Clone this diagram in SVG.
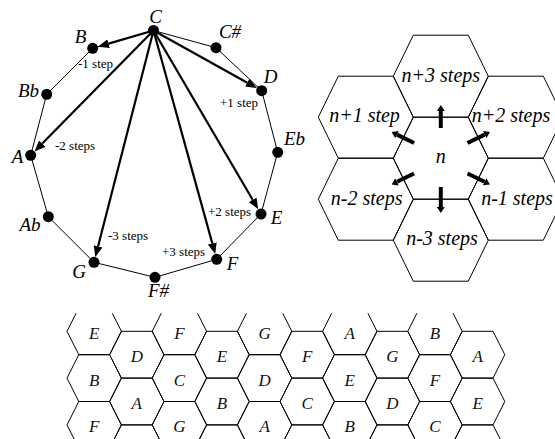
<svg xmlns="http://www.w3.org/2000/svg" xmlns:xlink="http://www.w3.org/1999/xlink" width="555" height="439" viewBox="0 0 555 439">
<style>
.edge{fill:none;stroke:#000;stroke-width:1}
.arrow{fill:none;stroke:#000;stroke-width:2.2;marker-end:url(#ah)}
.harrow{fill:none;stroke:#000;stroke-width:4;marker-end:url(#hh)}
.dot{fill:#000}
.note{font-family:"Liberation Serif","Times New Roman",serif;font-style:italic;font-size:19px;text-anchor:middle;fill:#000}
.step{font-family:"Liberation Serif","Times New Roman",serif;font-size:13px;fill:#000}
.hex{fill:none;stroke:#000;stroke-width:1}
.hl{font-family:"Liberation Serif","Times New Roman",serif;font-style:italic;font-size:20px;text-anchor:middle;fill:#000}
.bl{font-family:"Liberation Serif","Times New Roman",serif;font-style:italic;font-size:17px;text-anchor:middle;fill:#111}
</style>
<defs>
<marker id="ah" markerUnits="userSpaceOnUse" viewBox="0 -4.5 11 9" markerWidth="11" markerHeight="9" refX="0" refY="0" orient="auto"><path d="M0,-4.5 L11,0 L0,4.5 Z" fill="#000"/></marker>
<marker id="hh" markerUnits="userSpaceOnUse" viewBox="0 -4 6 8" markerWidth="6" markerHeight="8" refX="0" refY="0" orient="auto"><path d="M0,-4 L6,0 L0,4 Z" fill="#000"/></marker>
<polygon id="bigh" points="-47.5,0 -27.5,-41 27.5,-41 47.5,0 27.5,41 -27.5,41"/>
<polygon id="bh" points="-27.2,0 -15.4,-23.4 15.4,-23.4 27.2,0 15.4,23.4 -15.4,23.4"/>
<clipPath id="bc"><rect x="0" y="313.3" width="555" height="126"/></clipPath>
</defs>

<!-- Circle of notes: connectors -->
<g id="circle-connectors">
<polygon class="edge" points="153.5,30.5 216,47.7 261.7,90.7 277.7,152.3 261,214 216.7,259.3 155,277.3 94,262.3 48.3,216.7 30.7,155.3 46.7,94.3 92.7,48.3"/>
<path class="arrow" d="M153.5,30.5 L108.54,43.66"/>
<path class="arrow" d="M153.5,30.5 L247.3,82.68"/>
<path class="arrow" d="M153.5,30.5 L42.28,143.54"/>
<path class="arrow" d="M153.5,30.5 L98.1,246.32"/>
<path class="arrow" d="M153.5,30.5 L212.31,243.4"/>
<path class="arrow" d="M153.5,30.5 L252.66,199.76"/>
<text class="step" x="78" y="68">-1 step</text>
<text class="step" x="220" y="107">+1 step</text>
<text class="step" x="55" y="150">-2 steps</text>
<text class="step" x="108" y="240">-3 steps</text>
<text class="step" x="162" y="256">+3 steps</text>
<text class="step" x="208" y="216">+2 steps</text>
</g>

<!-- Circle of notes: nodes -->
<g id="note-C"><circle class="dot" cx="153.5" cy="30.5" r="5.5"/><text class="note" x="155.5" y="23">C</text></g>
<g id="note-Cs"><circle class="dot" cx="216" cy="47.7" r="5.5"/><text class="note" x="230" y="38">C#</text></g>
<g id="note-D"><circle class="dot" cx="261.7" cy="90.7" r="5.5"/><text class="note" x="270.5" y="83">D</text></g>
<g id="note-Eb"><circle class="dot" cx="277.7" cy="152.3" r="5.5"/><text class="note" x="294.5" y="145">Eb</text></g>
<g id="note-E"><circle class="dot" cx="261" cy="214" r="5.5"/><text class="note" x="276.5" y="224">E</text></g>
<g id="note-F"><circle class="dot" cx="216.7" cy="259.3" r="5.5"/><text class="note" x="232.5" y="270">F</text></g>
<g id="note-Fs"><circle class="dot" cx="155" cy="277.3" r="5.5"/><text class="note" x="158.5" y="297">F#</text></g>
<g id="note-G"><circle class="dot" cx="94" cy="262.3" r="5.5"/><text class="note" x="79" y="278">G</text></g>
<g id="note-Ab"><circle class="dot" cx="48.3" cy="216.7" r="5.5"/><text class="note" x="30" y="231">Ab</text></g>
<g id="note-A"><circle class="dot" cx="30.7" cy="155.3" r="5.5"/><text class="note" x="17.5" y="163">A</text></g>
<g id="note-Bb"><circle class="dot" cx="46.7" cy="94.3" r="5.5"/><text class="note" x="28.5" y="97">Bb</text></g>
<g id="note-B"><circle class="dot" cx="92.7" cy="48.3" r="5.5"/><text class="note" x="80.5" y="43">B</text></g>

<!-- Hex neighbourhood -->
<g id="hex-n"><use class="hex" xlink:href="#bigh" href="#bigh" x="440.8" y="158.2"/><text class="hl" x="440.8" y="163">n</text></g>
<g id="hex-n3p"><use class="hex" xlink:href="#bigh" href="#bigh" x="440.8" y="76.2"/><text class="hl" x="440.8" y="82">n+3 steps</text></g>
<g id="hex-n1p"><use class="hex" xlink:href="#bigh" href="#bigh" x="365.8" y="117.2"/><text class="hl" x="364.5" y="122">n+1 step</text></g>
<g id="hex-n2p"><use class="hex" xlink:href="#bigh" href="#bigh" x="515.8" y="117.2"/><text class="hl" x="511" y="122">n+2 steps</text></g>
<g id="hex-n2m"><use class="hex" xlink:href="#bigh" href="#bigh" x="365.8" y="199.2"/><text class="hl" x="366.7" y="205">n-2 steps</text></g>
<g id="hex-n1m"><use class="hex" xlink:href="#bigh" href="#bigh" x="515.8" y="199.2"/><text class="hl" x="517" y="205">n-1 steps</text></g>
<g id="hex-n3m"><use class="hex" xlink:href="#bigh" href="#bigh" x="440.8" y="240.2"/><text class="hl" x="442" y="245">n-3 steps</text></g>

<g id="hex-arrows">
<path class="harrow" d="M440.8,128 L440.8,111"/>
<path class="harrow" d="M440.8,187 L440.8,207"/>
<path class="harrow" d="M414.1,142.97 L397,134.6"/>
<path class="harrow" d="M467.5,142.97 L484.6,134.6"/>
<path class="harrow" d="M414.1,173.43 L397,181.8"/>
<path class="harrow" d="M467.5,173.43 L484.6,181.8"/>
</g>

<!-- Bottom honeycomb -->
<g id="honeycomb" clip-path="url(#bc)">
<g id="bh-0-0"><use class="hex" xlink:href="#bh" href="#bh" x="94.2" y="331.3"/><text class="bl" x="94.2" y="338.8">E</text></g>
<g id="bh-0-1"><use class="hex" xlink:href="#bh" href="#bh" x="94.2" y="378.1"/><text class="bl" x="94.2" y="385.6">B</text></g>
<g id="bh-0-2"><use class="hex" xlink:href="#bh" href="#bh" x="94.2" y="424.9"/><text class="bl" x="94.2" y="432.4">F</text></g>
<g id="bh-1-0"><use class="hex" xlink:href="#bh" href="#bh" x="136.8" y="354.7"/><text class="bl" x="136.8" y="362.2">D</text></g>
<g id="bh-1-1"><use class="hex" xlink:href="#bh" href="#bh" x="136.8" y="401.5"/><text class="bl" x="136.8" y="409">A</text></g>
<g id="bh-1-2"><use class="hex" xlink:href="#bh" href="#bh" x="136.8" y="448.3"/></g>
<g id="bh-2-0"><use class="hex" xlink:href="#bh" href="#bh" x="179.4" y="331.3"/><text class="bl" x="179.4" y="338.8">F</text></g>
<g id="bh-2-1"><use class="hex" xlink:href="#bh" href="#bh" x="179.4" y="378.1"/><text class="bl" x="179.4" y="385.6">C</text></g>
<g id="bh-2-2"><use class="hex" xlink:href="#bh" href="#bh" x="179.4" y="424.9"/><text class="bl" x="179.4" y="432.4">G</text></g>
<g id="bh-3-0"><use class="hex" xlink:href="#bh" href="#bh" x="222" y="354.7"/><text class="bl" x="222" y="362.2">E</text></g>
<g id="bh-3-1"><use class="hex" xlink:href="#bh" href="#bh" x="222" y="401.5"/><text class="bl" x="222" y="409">B</text></g>
<g id="bh-3-2"><use class="hex" xlink:href="#bh" href="#bh" x="222" y="448.3"/></g>
<g id="bh-4-0"><use class="hex" xlink:href="#bh" href="#bh" x="264.6" y="331.3"/><text class="bl" x="264.6" y="338.8">G</text></g>
<g id="bh-4-1"><use class="hex" xlink:href="#bh" href="#bh" x="264.6" y="378.1"/><text class="bl" x="264.6" y="385.6">D</text></g>
<g id="bh-4-2"><use class="hex" xlink:href="#bh" href="#bh" x="264.6" y="424.9"/><text class="bl" x="264.6" y="432.4">A</text></g>
<g id="bh-5-0"><use class="hex" xlink:href="#bh" href="#bh" x="307.2" y="354.7"/><text class="bl" x="307.2" y="362.2">F</text></g>
<g id="bh-5-1"><use class="hex" xlink:href="#bh" href="#bh" x="307.2" y="401.5"/><text class="bl" x="307.2" y="409">C</text></g>
<g id="bh-5-2"><use class="hex" xlink:href="#bh" href="#bh" x="307.2" y="448.3"/></g>
<g id="bh-6-0"><use class="hex" xlink:href="#bh" href="#bh" x="349.8" y="331.3"/><text class="bl" x="349.8" y="338.8">A</text></g>
<g id="bh-6-1"><use class="hex" xlink:href="#bh" href="#bh" x="349.8" y="378.1"/><text class="bl" x="349.8" y="385.6">E</text></g>
<g id="bh-6-2"><use class="hex" xlink:href="#bh" href="#bh" x="349.8" y="424.9"/><text class="bl" x="349.8" y="432.4">B</text></g>
<g id="bh-7-0"><use class="hex" xlink:href="#bh" href="#bh" x="392.4" y="354.7"/><text class="bl" x="392.4" y="362.2">G</text></g>
<g id="bh-7-1"><use class="hex" xlink:href="#bh" href="#bh" x="392.4" y="401.5"/><text class="bl" x="392.4" y="409">D</text></g>
<g id="bh-7-2"><use class="hex" xlink:href="#bh" href="#bh" x="392.4" y="448.3"/></g>
<g id="bh-8-0"><use class="hex" xlink:href="#bh" href="#bh" x="435" y="331.3"/><text class="bl" x="435" y="338.8">B</text></g>
<g id="bh-8-1"><use class="hex" xlink:href="#bh" href="#bh" x="435" y="378.1"/><text class="bl" x="435" y="385.6">F</text></g>
<g id="bh-8-2"><use class="hex" xlink:href="#bh" href="#bh" x="435" y="424.9"/><text class="bl" x="435" y="432.4">C</text></g>
<g id="bh-9-0"><use class="hex" xlink:href="#bh" href="#bh" x="477.6" y="354.7"/><text class="bl" x="477.6" y="362.2">A</text></g>
<g id="bh-9-1"><use class="hex" xlink:href="#bh" href="#bh" x="477.6" y="401.5"/><text class="bl" x="477.6" y="409">E</text></g>
<g id="bh-9-2"><use class="hex" xlink:href="#bh" href="#bh" x="477.6" y="448.3"/></g>
</g>
</svg>
